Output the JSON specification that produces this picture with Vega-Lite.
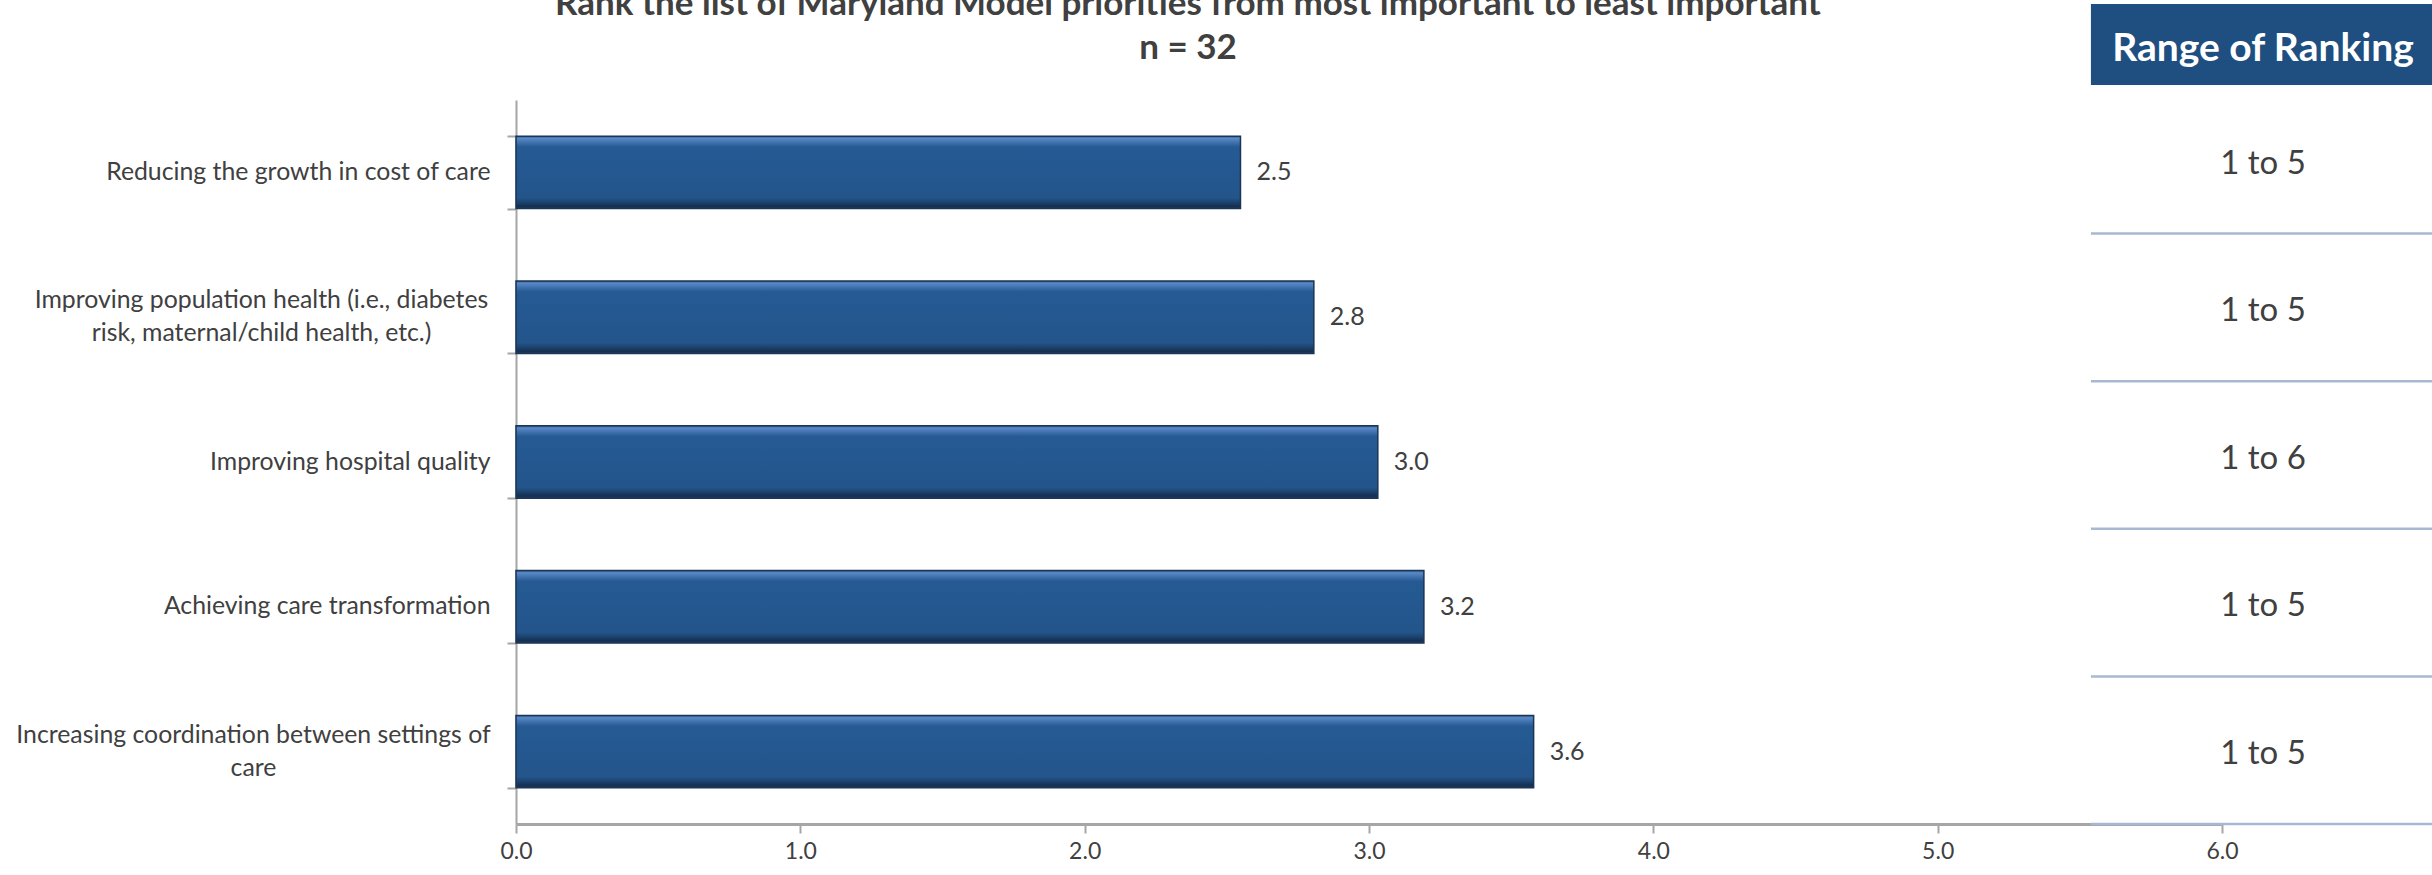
{
  "$schema": "https://vega.github.io/schema/vega-lite/v6.json",
  "width": 1706,
  "height": 724,
  "autosize": {"type": "none"},
  "padding": {"left": 516, "top": 100, "right": 210, "bottom": 51},
  "background": "white",
  "title": {
    "text": ["Rank the list of Maryland Model priorities from most important to least important", "n = 32"],
    "frame": "group",
    "anchor": "middle",
    "dx": -181,
    "offset": 0,
    "dy": 97.5,
    "baseline": "bottom",
    "font": "Lato",
    "fontSize": 35,
    "fontWeight": "bold",
    "color": "#404040",
    "lineHeight": 44
  },
  "config": {
    "view": {"stroke": null},
    "axisX": {
      "domainColor": "#A6A6A6", "domainWidth": 3,
      "tickColor": "#A6A6A6", "tickWidth": 2, "tickSize": 9,
      "labelFont": "Lato", "labelFontSize": 23, "labelColor": "#404040",
      "labelPadding": 7, "labelFlush": false, "labelOverlap": false,
      "grid": false, "title": null
    },
    "axisY": {
      "domainColor": "#A6A6A6", "domainWidth": 2,
      "tickColor": "#A6A6A6", "tickWidth": 2, "tickSize": 9, "tickBand": "extent",
      "labelFont": "Lato", "labelFontSize": 24.8, "labelColor": "#404040",
      "labelLimit": 800, "labelLineHeight": 33,
      "grid": false, "title": null
    }
  },
  "data": {
    "values": [
      {"priority": "Reducing the growth in cost of care", "score": 2.548, "range": "1 to 5", "order": 1},
      {"priority": "Improving population health (i.e., diabetes|risk, maternal/child health, etc.)", "score": 2.806, "range": "1 to 5", "order": 2},
      {"priority": "Improving hospital quality", "score": 3.031, "range": "1 to 6", "order": 3},
      {"priority": "Achieving care transformation", "score": 3.193, "range": "1 to 5", "order": 4},
      {"priority": "Increasing coordination between settings of|care", "score": 3.579, "range": "1 to 5", "order": 5}
    ]
  },
  "resolve": {"scale": {"y": "independent"}},
  "layer": [
    {
      "layer": [
        {
          "mark": {
            "type": "bar",
            "fill": {
              "gradient": "linear", "x1": 0, "y1": 0, "x2": 0, "y2": 1,
              "stops": [
                {"offset": 0, "color": "#2b5a92"},
                {"offset": 0.03, "color": "#5a8ac6"},
                {"offset": 0.09, "color": "#3f70ad"},
                {"offset": 0.15, "color": "#255a93"},
                {"offset": 0.85, "color": "#23558b"},
                {"offset": 0.91, "color": "#1c4470"},
                {"offset": 0.97, "color": "#152f50"},
                {"offset": 1, "color": "#203f63"}
              ]
            },
            "stroke": "#1a3556",
            "strokeWidth": 1.5
          },
          "encoding": {
            "y": {
              "field": "priority", "type": "nominal", "sort": null,
              "scale": {"paddingInner": 0.5, "paddingOuter": 0.25},
              "axis": {
                "labelExpr": "isValid(datum.value) ? split(datum.value, '|') : ''",
                "labelAlign": {"condition": {"test": "isValid(datum.value) && indexof(datum.value, '|') >= 0", "value": "center"}, "value": "right"},
                "labelOffset": {"condition": {"test": "isValid(datum.value) && indexof(datum.value, '|') >= 0", "value": -16.5}, "value": 0},
                "labelPadding": {
                  "condition": [
                    {"test": "isValid(datum.value) && indexof(datum.value, 'coordination') >= 0", "value": 254},
                    {"test": "isValid(datum.value) && indexof(datum.value, 'population') >= 0", "value": 246}
                  ],
                  "value": 17
                }
              }
            },
            "x": {
              "field": "score", "type": "quantitative",
              "scale": {"domain": [0, 6], "nice": false, "zero": true},
              "axis": {"values": [0, 1, 2, 3, 4, 5, 6], "format": ".1f"}
            }
          }
        },
        {
          "mark": {"type": "text", "align": "left", "baseline": "middle", "dx": 16, "font": "Lato", "fontSize": 25, "color": "#404040"},
          "encoding": {
            "y": {"field": "priority", "type": "nominal", "sort": null},
            "x": {"field": "score", "type": "quantitative"},
            "text": {"field": "score", "type": "quantitative", "format": ".1f"}
          }
        }
      ]
    },
    {
      "layer": [
        {
          "data": {"values": [{"column": "Range of Ranking"}]},
          "mark": {"type": "rect", "color": "#1F4E80"},
          "encoding": {
            "x": {"datum": 5.539, "type": "quantitative", "title": null},
            "x2": {"datum": 6.8},
            "y": {"datum": -0.5556, "type": "quantitative", "scale": {"domain": [0.0949, 5], "reverse": true, "nice": false, "zero": false}, "axis": null},
            "y2": {"datum": -0.007}
          }
        },
        {
          "data": {"values": [{"column": "Range of Ranking"}]},
          "mark": {"type": "text", "align": "center", "baseline": "middle", "font": "Lato", "fontSize": 39, "fontWeight": "bold", "color": "white"},
          "encoding": {
            "x": {"datum": 6.144, "type": "quantitative", "title": null},
            "y": {"datum": -0.25, "type": "quantitative", "axis": null},
            "text": {"field": "column", "type": "nominal"}
          }
        },
        {
          "mark": {"type": "rule", "color": "#A7B9D1", "strokeWidth": 2.5},
          "encoding": {
            "x": {"datum": 5.539, "type": "quantitative", "title": null},
            "x2": {"datum": 6.8},
            "y": {"field": "order", "type": "quantitative", "axis": null}
          }
        },
        {
          "mark": {"type": "text", "align": "center", "baseline": "middle", "dy": -70, "font": "Lato", "fontSize": 33, "color": "#404040"},
          "encoding": {
            "x": {"datum": 6.144, "type": "quantitative", "title": null},
            "y": {"field": "order", "type": "quantitative", "axis": null},
            "text": {"field": "range", "type": "nominal"}
          }
        }
      ]
    }
  ]
}
